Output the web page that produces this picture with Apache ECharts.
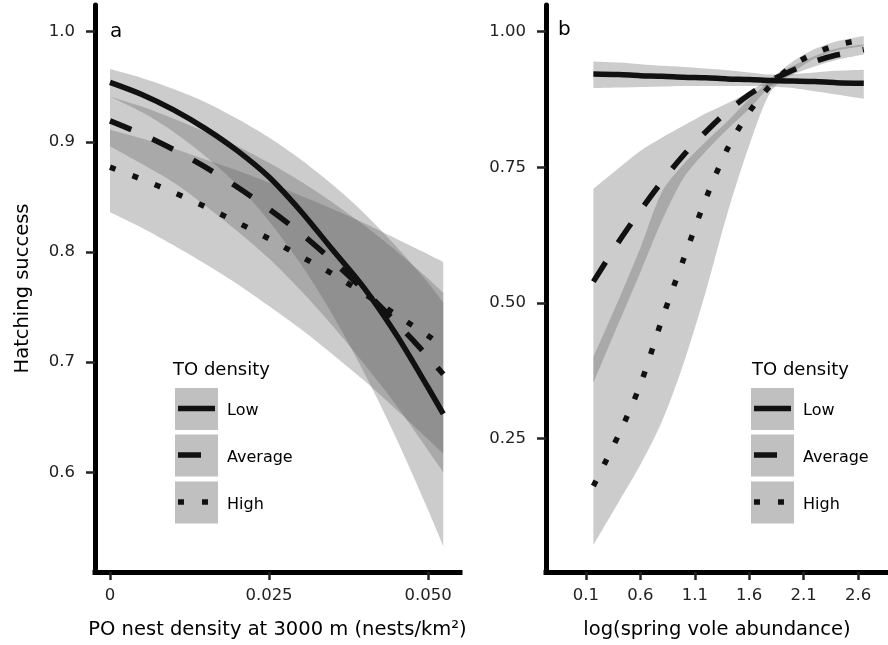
<!DOCTYPE html>
<html>
<head>
<meta charset="utf-8">
<script src="https://cdn.jsdelivr.net/npm/echarts@6/dist/echarts.min.js"></script>
<style>
  html, body { margin: 0; padding: 0; background: #ffffff; }
  #main { width: 888px; height: 645px; }
</style>
</head>
<body>
<div id="main"></div>
<script>
// ---- Panel a: hatching success vs PO nest density at 3000 m ----
const densityX = [0, 0.005, 0.01, 0.015, 0.02, 0.025, 0.03, 0.035, 0.04, 0.045, 0.05, 0.0524];
const lowA    = [0.954, 0.943, 0.929, 0.912, 0.892, 0.868, 0.837, 0.802, 0.767, 0.725, 0.677, 0.653];
const lowALo  = [0.941, 0.927, 0.909, 0.887, 0.861, 0.828, 0.789, 0.743, 0.690, 0.631, 0.566, 0.533];
const lowAHi  = [0.966, 0.958, 0.948, 0.936, 0.921, 0.904, 0.884, 0.861, 0.835, 0.805, 0.772, 0.754];
const avgA    = [0.919, 0.907, 0.893, 0.877, 0.859, 0.839, 0.817, 0.792, 0.765, 0.736, 0.705, 0.689];
const avgALo  = [0.896, 0.880, 0.863, 0.842, 0.819, 0.794, 0.765, 0.733, 0.698, 0.661, 0.620, 0.600];
const avgAHi  = [0.941, 0.932, 0.921, 0.909, 0.896, 0.881, 0.864, 0.845, 0.824, 0.801, 0.776, 0.763];
const highA   = [0.877, 0.866, 0.854, 0.841, 0.827, 0.812, 0.796, 0.780, 0.762, 0.743, 0.724, 0.714];
const highALo = [0.836, 0.822, 0.806, 0.789, 0.771, 0.751, 0.730, 0.707, 0.683, 0.657, 0.630, 0.617];
const highAHi = [0.911, 0.903, 0.894, 0.884, 0.874, 0.863, 0.851, 0.839, 0.826, 0.812, 0.798, 0.791];

// ---- Panel b: hatching success vs log(spring vole abundance) ----
const voleX   = [0.169, 0.4, 0.6, 0.8, 1.0, 1.2, 1.4, 1.6, 1.8, 2.0, 2.2, 2.4, 2.652];
const lowB    = [0.922, 0.921, 0.919, 0.918, 0.916, 0.915, 0.913, 0.912, 0.910, 0.909, 0.908, 0.906, 0.905];
const lowBLo  = [0.896, 0.897, 0.898, 0.899, 0.900, 0.900, 0.900, 0.900, 0.899, 0.896, 0.890, 0.884, 0.876];
const lowBHi  = [0.945, 0.943, 0.940, 0.937, 0.935, 0.932, 0.929, 0.925, 0.921, 0.922, 0.925, 0.928, 0.930];
const avgB    = [0.539, 0.612, 0.670, 0.724, 0.773, 0.815, 0.853, 0.884, 0.910, 0.929, 0.945, 0.957, 0.967];
const avgBLo  = [0.352, 0.462, 0.556, 0.652, 0.731, 0.779, 0.820, 0.858, 0.900, 0.921, 0.936, 0.948, 0.958];
const avgBHi  = [0.710, 0.748, 0.780, 0.805, 0.827, 0.849, 0.868, 0.889, 0.915, 0.937, 0.955, 0.969, 0.977];
const highB   = [0.162, 0.256, 0.349, 0.470, 0.582, 0.691, 0.784, 0.852, 0.902, 0.938, 0.960, 0.975, 0.986];
const highBLo = [0.053, 0.132, 0.201, 0.282, 0.390, 0.520, 0.665, 0.790, 0.890, 0.925, 0.950, 0.965, 0.973];
const highBHi = [0.400, 0.505, 0.601, 0.705, 0.756, 0.797, 0.835, 0.876, 0.912, 0.945, 0.968, 0.982, 0.992];

// ---- Ticks and labels ----
const xTicksA = [0, 0.025, 0.05];
const xTickLabelsA = ['0', '0.025', '0.050'];
const yTicksA = [0.6, 0.7, 0.8, 0.9, 1.0];
const yTickLabelsA = ['0.6', '0.7', '0.8', '0.9', '1.0'];
const xTicksB = [0.1, 0.6, 1.1, 1.6, 2.1, 2.6];
const xTickLabelsB = ['0.1', '0.6', '1.1', '1.6', '2.1', '2.6'];
const yTicksB = [0.25, 0.5, 0.75, 1.0];
const yTickLabelsB = ['0.25', '0.50', '0.75', '1.00'];

const legendTitle = 'TO density';
const legendLabels = ['Low', 'Average', 'High'];
const panelTags = ['a', 'b'];

// ---- Styling ----
const FONT = 'DejaVu Sans';
const BAND_FILL = 'rgba(90,90,90,0.31)';
const KEY_FILL = '#c0c0c0';
const INK = '#111111';
const TICK_INK = '#222222';
const LINE_W = 5.5;
const DASHES = ['solid', [23, 23], [6, 18]];

function pairs(xs, ys) { return xs.map((x, i) => [x, ys[i]]); }
// value first so that stacking acts on the y dimension
function yxPairs(xs, ys) { return xs.map((x, i) => [ys[i], x]); }

function labelFor(ticks, labels) {
  return v => {
    const i = ticks.findIndex(t => Math.abs(t - v) < 1e-9);
    return i >= 0 ? labels[i] : '';
  };
}

// Ribbon drawn as a stacked area: invisible lower edge + filled width on top.
function ribbon(id, xs, lo, hi, axis) {
  const common = {
    type: 'line', xAxisIndex: axis, yAxisIndex: axis, stack: id,
    encode: { x: 1, y: 0 },
    symbol: 'none', smooth: 0.3, silent: true,
    lineStyle: { width: 0, opacity: 0 }, z: 1
  };
  return [
    Object.assign({}, common, { name: id + '-lower', data: yxPairs(xs, lo) }),
    Object.assign({}, common, {
      name: id + '-upper',
      data: yxPairs(xs, hi.map((h, i) => h - lo[i])),
      areaStyle: { color: BAND_FILL, opacity: 1 }
    })
  ];
}

function curve(id, xs, ys, axis, dash) {
  return {
    type: 'line', name: id, xAxisIndex: axis, yAxisIndex: axis,
    data: pairs(xs, ys), symbol: 'none', smooth: 0.3,
    silent: true, z: 3,
    lineStyle: { color: INK, width: LINE_W, type: dash, cap: 'butt' }
  };
}

function xAxisDef(grid, min, max, ticks, labels, name, nameGap) {
  return {
    type: 'value', gridIndex: grid, min: min, max: max,
    splitLine: { show: false },
    axisLine: { onZero: false, lineStyle: { color: '#000', width: 5, cap: 'square' } },
    axisTick: { customValues: ticks, length: 8, lineStyle: { color: TICK_INK, width: 2.5 } },
    axisLabel: {
      customValues: ticks, formatter: labelFor(ticks, labels), margin: 15,
      fontFamily: FONT, fontSize: 16.5, color: TICK_INK
    },
    name: name, nameLocation: 'middle', nameGap: nameGap,
    nameTextStyle: { fontFamily: FONT, fontSize: 19.5, color: '#000' }
  };
}

function yAxisDef(grid, min, max, ticks, labels, name) {
  const ax = {
    type: 'value', gridIndex: grid, min: min, max: max,
    splitLine: { show: false },
    axisLine: { onZero: false, lineStyle: { color: '#000', width: 5 } },
    axisTick: { customValues: ticks, length: 9, lineStyle: { color: TICK_INK, width: 2.5 } },
    axisLabel: {
      customValues: ticks, formatter: labelFor(ticks, labels), margin: 20,
      fontFamily: FONT, fontSize: 16.5, color: TICK_INK
    }
  };
  if (name) {
    ax.name = name;
    ax.nameLocation = 'middle';
    ax.nameGap = 62;
    ax.nameTextStyle = { fontFamily: FONT, fontSize: 19.5, color: '#000' };
  }
  return ax;
}

// Legend block: title, three grey keys with line samples and labels.
function legendBlock(keyLeft, titleLeft) {
  const els = [{
    type: 'text', left: titleLeft, top: 361.5, silent: true, z: 10,
    style: { text: legendTitle, fontFamily: FONT, fontSize: 18, fill: '#000' }
  }];
  const keyTops = [388, 434.5, 481.5];
  keyTops.forEach((top, i) => {
    els.push({ type: 'rect', z: 10, shape: { x: keyLeft, y: top, width: 43, height: 42 }, style: { fill: KEY_FILL }, silent: true });
    const ly = top + 20.5;
    const dash = DASHES[i];
    els.push({
      type: 'line', silent: true, z: 11,
      shape: { x1: keyLeft + 3, y1: ly, x2: keyLeft + 40, y2: ly },
      style: { stroke: INK, lineWidth: LINE_W, lineDash: dash === 'solid' ? null : dash, lineCap: 'butt' }
    });
    els.push({
      type: 'text', left: keyLeft + 52, top: ly - 5.5, silent: true, z: 11,
      style: { text: legendLabels[i], fontFamily: FONT, fontSize: 16, fill: '#000' }
    });
  });
  return els;
}

const chart = echarts.init(document.getElementById('main'), null, { renderer: 'canvas' });

const option = {
  animation: false,
  backgroundColor: '#ffffff',
  grid: [
    { left: 95, top: 5, width: 365, height: 567 },
    { left: 546, top: 5, width: 363, height: 567 }
  ],
  xAxis: [
    xAxisDef(0, -0.002358, 0.05503, xTicksA, xTickLabelsA, 'PO nest density at 3000 m (nests/km²)', 48),
    xAxisDef(1, -0.2660, 2.8743, xTicksB, xTickLabelsB, 'log(spring vole abundance)', 48)
  ],
  yAxis: [
    yAxisDef(0, 0.5095, 1.0242, yTicksA, yTickLabelsA, 'Hatching success'),
    yAxisDef(1, 0.0033, 1.0493, yTicksB, yTickLabelsB, null)
  ],
  series: [].concat(
    ribbon('lowA', densityX, lowALo, lowAHi, 0),
    ribbon('avgA', densityX, avgALo, avgAHi, 0),
    ribbon('highA', densityX, highALo, highAHi, 0),
    ribbon('lowB', voleX, lowBLo, lowBHi, 1),
    ribbon('avgB', voleX, avgBLo, avgBHi, 1),
    ribbon('highB', voleX, highBLo, highBHi, 1),
    [
      curve('Low a', densityX, lowA, 0, DASHES[0]),
      curve('Average a', densityX, avgA, 0, DASHES[1]),
      curve('High a', densityX, highA, 0, DASHES[2]),
      curve('Low b', voleX, lowB, 1, DASHES[0]),
      curve('Average b', voleX, avgB, 1, DASHES[1]),
      curve('High b', voleX, highB, 1, DASHES[2])
    ]
  ),
  graphic: [].concat(
    [
      { type: 'text', left: 110, top: 22, silent: true, style: { text: panelTags[0], fontFamily: FONT, fontSize: 20, fill: '#000' } },
      { type: 'text', left: 558, top: 20, silent: true, style: { text: panelTags[1], fontFamily: FONT, fontSize: 20, fill: '#000' } }
    ],
    legendBlock(175, 173),
    legendBlock(751, 752)
  )
};

chart.setOption(option);
</script>
</body>
</html>
